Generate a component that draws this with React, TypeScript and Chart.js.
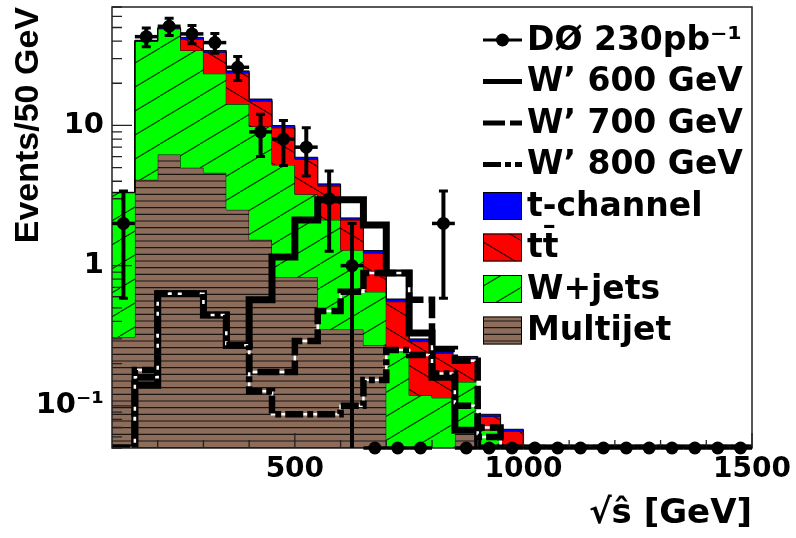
import { useEffect, useRef } from 'react';
import { Chart, registerables } from 'chart.js';

Chart.register(...registerables);

// ---- data ----
const binEdges = [100, 150, 200, 250, 300, 350, 400, 450, 500, 550, 600, 650, 700, 750, 800, 850, 900, 950, 1000, 1050, 1100, 1150, 1200, 1250, 1300, 1350, 1400, 1450, 1500];

const multijet = [0.31, 4.1, 6.2, 5.0, 4.6, 2.5, 1.53, 0.83, 0.83, 0.35, 0.35, 0.27, 0, 0, 0, 0.063, 0, 0, 0, 0, 0, 0, 0, 0, 0, 0, 0, 0];
const wjets = [3.0, 35.7, 42.7, 29.3, 18.8, 11.7, 8.3, 4.4, 2.4, 1.77, 0.94, 0.38, 0.243, 0.119, 0.114, 0.085, 0.067, 0.03, 0, 0, 0, 0, 0, 0, 0, 0, 0, 0];
const ttbar = [0.02, 0.4, 0.5, 7.1, 9.8, 9.5, 5.1, 4.4, 2.5, 1.58, 0.83, 0.58, 0.31, 0.168, 0.123, 0.07, 0.017, 0.036, 0, 0, 0, 0, 0, 0, 0, 0, 0, 0];
const tchannel = [0, 0.3, 0.4, 1.1, 1.0, 0.8, 0.5, 0.35, 0.2, 0.13, 0.07, 0.05, 0.025, 0.013, 0.008, 0.007, 0.003, 0.002, 0, 0, 0, 0, 0, 0, 0, 0, 0, 0];

const wp600 = [0, 0.14, 0.63, 0.63, 0.445, 0.27, 0.57, 1.15, 2.12, 2.95, 2.95, 1.95, 0.887, 0.33, 0.16, 0.067, 0, 0, 0, 0, 0, 0, 0, 0, 0, 0, 0, 0];
const wp700 = [0, 0.18, 0.63, 0.63, 0.445, 0.27, 0.174, 0.174, 0.29, 0.474, 0.65, 0.886, 0.886, 0.57, 0.254, 0.21, 0.07, 0, 0, 0, 0, 0, 0, 0, 0, 0, 0, 0];
const wp800 = [0, 0.16, 0.63, 0.63, 0.445, 0.27, 0.127, 0.087, 0.087, 0.087, 0.1, 0.153, 0.25, 0.23, 0.17, 0.1, 0.06, 0, 0, 0, 0, 0, 0, 0, 0, 0, 0, 0];

const dataCounts = [2, 43, 51, 45, 39, 26, 9, 8, 7, 3, 1, 0, 0, 0, 2, 0, 0, 0, 0, 0, 0, 0, 0, 0, 0, 0, 0, 0];

const xTickValues = [500, 1000, 1500];
const yTickValues = [0.1, 1, 10];
const yTickLabels = ['10⁻¹', '1', '10'];

const labelData = 'DØ 230pb⁻¹';
const label600 = 'W’ 600 GeV';
const label700 = 'W’ 700 GeV';
const label800 = 'W’ 800 GeV';
const labelTch = 't-channel';
const labelTT = 'tt̄';
const labelWJ = 'W+jets';
const labelMJ = 'Multijet';

const X_MIN = 100;
const X_MAX = 1500;
const Y_MIN = 0.05;
const Y_MAX = 70;

const FONT = "'DejaVu Sans', 'Liberation Sans', sans-serif";

function stepPoints(vals: number[]) {
  const pts = vals.map((v, i) => ({ x: binEdges[i], y: Math.max(v, Y_MIN) }));
  pts.push({ x: binEdges[vals.length], y: Math.max(vals[vals.length - 1], Y_MIN) });
  return pts;
}

function addArr(a: number[], b: number[]) {
  return a.map((v, i) => v + b[i]);
}

function makePattern(bg: string, kind: 'up' | 'down' | 'horiz') {
  const c = document.createElement('canvas');
  let w = 40, h = 24;
  if (kind === 'horiz') { w = 8; h = 20; }
  c.width = w; c.height = h;
  const g = c.getContext('2d') as CanvasRenderingContext2D;
  g.fillStyle = bg;
  g.fillRect(0, 0, w, h);
  g.strokeStyle = 'rgba(0,0,0,0.8)';
  g.lineWidth = 1.1;
  g.beginPath();
  if (kind === 'up') {
    for (const x0 of [-w, 0, w]) { g.moveTo(x0, h); g.lineTo(x0 + w, 0); }
  } else if (kind === 'down') {
    for (const x0 of [-w, 0, w]) { g.moveTo(x0, 0); g.lineTo(x0 + w, h); }
  } else {
    for (const y0 of [1, 7.67, 14.33]) { g.moveTo(0, y0); g.lineTo(w, y0); }
  }
  g.stroke();
  return g.createPattern(c, 'repeat') as CanvasPattern;
}

const framePlugin = {
  id: 'frameTicks',
  afterDatasetsDraw(chart: any) {
    const { ctx, chartArea: a, scales } = chart;
    const x = scales.x, y = scales.y;
    ctx.save();
    ctx.strokeStyle = '#222';
    ctx.lineWidth = 1.3;
    ctx.beginPath();
    for (let d = -2; d <= 1; d++) {
      for (let m = 1; m <= 9; m++) {
        const v = m * Math.pow(10, d);
        if (v < Y_MIN - 1e-9 || v > Y_MAX + 1e-9) continue;
        const py = y.getPixelForValue(v);
        const len = m === 1 ? 20 : 10;
        ctx.moveTo(a.left, py);
        ctx.lineTo(a.left + len, py);
      }
    }
    for (let v = 200; v <= X_MAX; v += 100) {
      const px = x.getPixelForValue(v);
      const len = xTickValues.includes(v) ? 15 : 8;
      ctx.moveTo(px, a.bottom);
      ctx.lineTo(px, a.bottom - len);
    }
    ctx.stroke();
    ctx.lineWidth = 1.5;
    ctx.strokeRect(a.left, a.top, a.right - a.left, a.bottom - a.top);
    ctx.restore();
  },
};

const errorBarPlugin = {
  id: 'errorBars',
  afterDatasetsDraw(chart: any) {
    const { ctx, chartArea: a, scales } = chart;
    const x = scales.x, y = scales.y;
    ctx.save();
    ctx.strokeStyle = '#000';
    ctx.lineCap = 'butt';
    dataCounts.forEach((n, i) => {
      const xl = x.getPixelForValue(binEdges[i]);
      const xr = x.getPixelForValue(binEdges[i + 1]);
      const xc = (xl + xr) / 2;
      const yc = n > 0 ? y.getPixelForValue(n) : a.bottom;
      ctx.lineWidth = 3.5;
      ctx.beginPath();
      ctx.moveTo(xl, yc);
      ctx.lineTo(xr, yc);
      ctx.stroke();
      if (n > 0) {
        const e = Math.sqrt(n);
        const yt = y.getPixelForValue(n + e);
        const lowOk = n - e > Y_MIN;
        const yb = lowOk ? y.getPixelForValue(n - e) : a.bottom;
        ctx.lineWidth = 4;
        ctx.beginPath();
        ctx.moveTo(xc, yt);
        ctx.lineTo(xc, yb);
        ctx.stroke();
        ctx.lineWidth = 3;
        ctx.beginPath();
        ctx.moveTo(xc - 4.5, yt);
        ctx.lineTo(xc + 4.5, yt);
        if (lowOk) {
          ctx.moveTo(xc - 4.5, yb);
          ctx.lineTo(xc + 4.5, yb);
        }
        ctx.stroke();
      }
    });
    ctx.restore();
  },
};

export default function App() {
  const ref = useRef<HTMLCanvasElement | null>(null);

  useEffect(() => {
    const canvas = ref.current;
    if (!canvas) return;

    const green = makePattern('#00ff00', 'up');
    const red = makePattern('#ff0000', 'down');
    const brown = makePattern('#8c6c5b', 'horiz');

    const cMJ = multijet;
    const cWJ = addArr(cMJ, wjets);
    const cTT = addArr(cWJ, ttbar);
    const cTC = addArr(cTT, tchannel);

    const legendPlugin = {
      id: 'customLegend',
      afterDraw(chart: any) {
        const { ctx } = chart;
        const x0 = 483, x1 = 522, tx = 527;
        const ys = [40, 81.5, 123, 164.5, 206, 247.5, 289, 330.5];
        ctx.save();
        ctx.font = `bold 33px ${FONT}`;
        ctx.fillStyle = '#000';
        ctx.textBaseline = 'middle';
        ctx.textAlign = 'left';
        const items = [
          { t: labelData, k: 'data' },
          { t: label600, k: 'l', dash: [] as number[] },
          { t: label700, k: 'l', dash: [22, 5] },
          { t: label800, k: 'l', dash: [18, 4, 6, 4] },
          { t: labelTch, k: 'box', fill: '#0000ff' },
          { t: labelTT, k: 'box', fill: red },
          { t: labelWJ, k: 'box', fill: green },
          { t: labelMJ, k: 'box', fill: brown },
        ];
        items.forEach((it: any, i) => {
          const yy = ys[i];
          if (it.k === 'data') {
            ctx.strokeStyle = '#000';
            ctx.lineWidth = 3;
            ctx.beginPath();
            ctx.moveTo(x0, yy);
            ctx.lineTo(x1, yy);
            ctx.stroke();
            ctx.beginPath();
            ctx.arc((x0 + x1) / 2, yy, 6.5, 0, Math.PI * 2);
            ctx.fill();
          } else if (it.k === 'l') {
            ctx.strokeStyle = '#000';
            ctx.lineWidth = 5;
            ctx.setLineDash(it.dash);
            ctx.beginPath();
            ctx.moveTo(x0, yy);
            ctx.lineTo(x1, yy);
            ctx.stroke();
            ctx.setLineDash([]);
          } else {
            ctx.fillStyle = it.fill;
            ctx.fillRect(x0, yy - 14, x1 - x0, 28);
            ctx.strokeStyle = '#000';
            ctx.lineWidth = 1;
            ctx.strokeRect(x0 + 0.5, yy - 13.5, x1 - x0 - 1, 27);
          }
          ctx.fillStyle = '#000';
          ctx.fillText(it.t, tx, yy + 1);
        });
        ctx.restore();
      },
    };

    const histLine = (label: string, vals: number[], bg: any, fill: any, order: number) => ({
      type: 'line',
      label,
      data: stepPoints(vals),
      stepped: true,
      fill,
      backgroundColor: bg,
      borderColor: '#000',
      borderWidth: 1,
      pointRadius: 0,
      order,
      clip: 0,
    });

    const wLine = (label: string, vals: number[], dash: number[], color: string, width: number, order: number) => ({
      type: 'line',
      label,
      data: stepPoints(vals),
      stepped: true,
      fill: false,
      borderColor: color,
      borderWidth: width,
      borderDash: dash,
      borderCapStyle: 'butt',
      borderJoinStyle: 'miter',
      pointRadius: 0,
      order,
      clip: 0,
    });

    const resetPad = (s: any) => {
      s.paddingTop = 0;
      s.paddingBottom = 0;
      s.paddingLeft = 0;
      s.paddingRight = 0;
    };

    const chart = new Chart(canvas, {
      type: 'line',
      data: {
        datasets: [
          histLine(labelMJ, cMJ, brown, 'start', 20),
          histLine(labelWJ, cWJ, green, '-1', 19),
          histLine(labelTT, cTT, red, '-1', 18),
          histLine(labelTch, cTC, '#0000ff', '-1', 17),
          wLine(label600, wp600, [], '#000000', 7, 10),
          wLine('w700 under', wp700, [], '#ffffff', 2.5, 9),
          wLine(label700, wp700, [22, 5], '#000000', 6.5, 8),
          wLine('w800 under', wp800, [], '#ffffff', 2.5, 7),
          wLine(label800, wp800, [18, 4, 6, 4], '#000000', 6.5, 6),
          {
            type: 'line',
            label: labelData,
            data: dataCounts.map((n, i) => ({ x: (binEdges[i] + binEdges[i + 1]) / 2, y: Math.max(n, Y_MIN) })),
            showLine: false,
            pointRadius: 6.5,
            pointBackgroundColor: '#000',
            pointBorderColor: '#000',
            pointBorderWidth: 0,
            order: 0,
            clip: false,
          },
        ] as any,
      },
      options: {
        responsive: false,
        animation: false,
        events: [],
        layout: { padding: { top: 7, right: 44, left: 0, bottom: 0 } },
        plugins: { legend: { display: false }, tooltip: { enabled: false } },
        scales: {
          x: {
            type: 'linear',
            min: X_MIN,
            max: X_MAX,
            afterFit: (s: any) => { s.height = 90; resetPad(s); },
            afterBuildTicks: (s: any) => { s.ticks = xTickValues.map((v) => ({ value: v })); },
            grid: { display: false, drawTicks: false },
            border: { display: false },
            ticks: {
              autoSkip: false,
              maxRotation: 0,
              padding: 5,
              color: '#000',
              font: { family: FONT, weight: 'bold', size: 28 },
              callback: (v: any) => String(v),
            },
            title: {
              display: true,
              text: '√ŝ [GeV]',
              align: 'end',
              color: '#000',
              font: { family: FONT, weight: 'bold', size: 34 },
              padding: { top: 0, bottom: 3 },
            },
          },
          y: {
            type: 'logarithmic',
            min: Y_MIN,
            max: Y_MAX,
            afterFit: (s: any) => { s.width = 112; resetPad(s); },
            afterBuildTicks: (s: any) => { s.ticks = yTickValues.map((v) => ({ value: v })); },
            grid: { display: false, drawTicks: false },
            border: { display: false },
            ticks: {
              autoSkip: false,
              padding: 8,
              color: '#000',
              font: { family: FONT, weight: 'bold', size: 29 },
              callback: (v: any) => {
                const idx = yTickValues.findIndex((t) => Math.abs(t - v) < 1e-9);
                return idx >= 0 ? yTickLabels[idx] : '';
              },
            },
            title: {
              display: true,
              text: 'Events/50 GeV',
              align: 'end',
              color: '#000',
              font: { family: "'Liberation Sans', Arial, sans-serif", weight: 'bold', size: 34 },
              padding: { top: 8, bottom: 0 },
            },
          },
        },
      } as any,
      plugins: [framePlugin, errorBarPlugin, legendPlugin],
    });

    return () => chart.destroy();
  }, []);

  return (
    <div style={{ position: 'fixed', left: 0, top: 0, width: 796, height: 538, background: '#fff' }}>
      <canvas ref={ref} width={796} height={538} style={{ width: 796, height: 538, display: 'block' }} />
    </div>
  );
}
